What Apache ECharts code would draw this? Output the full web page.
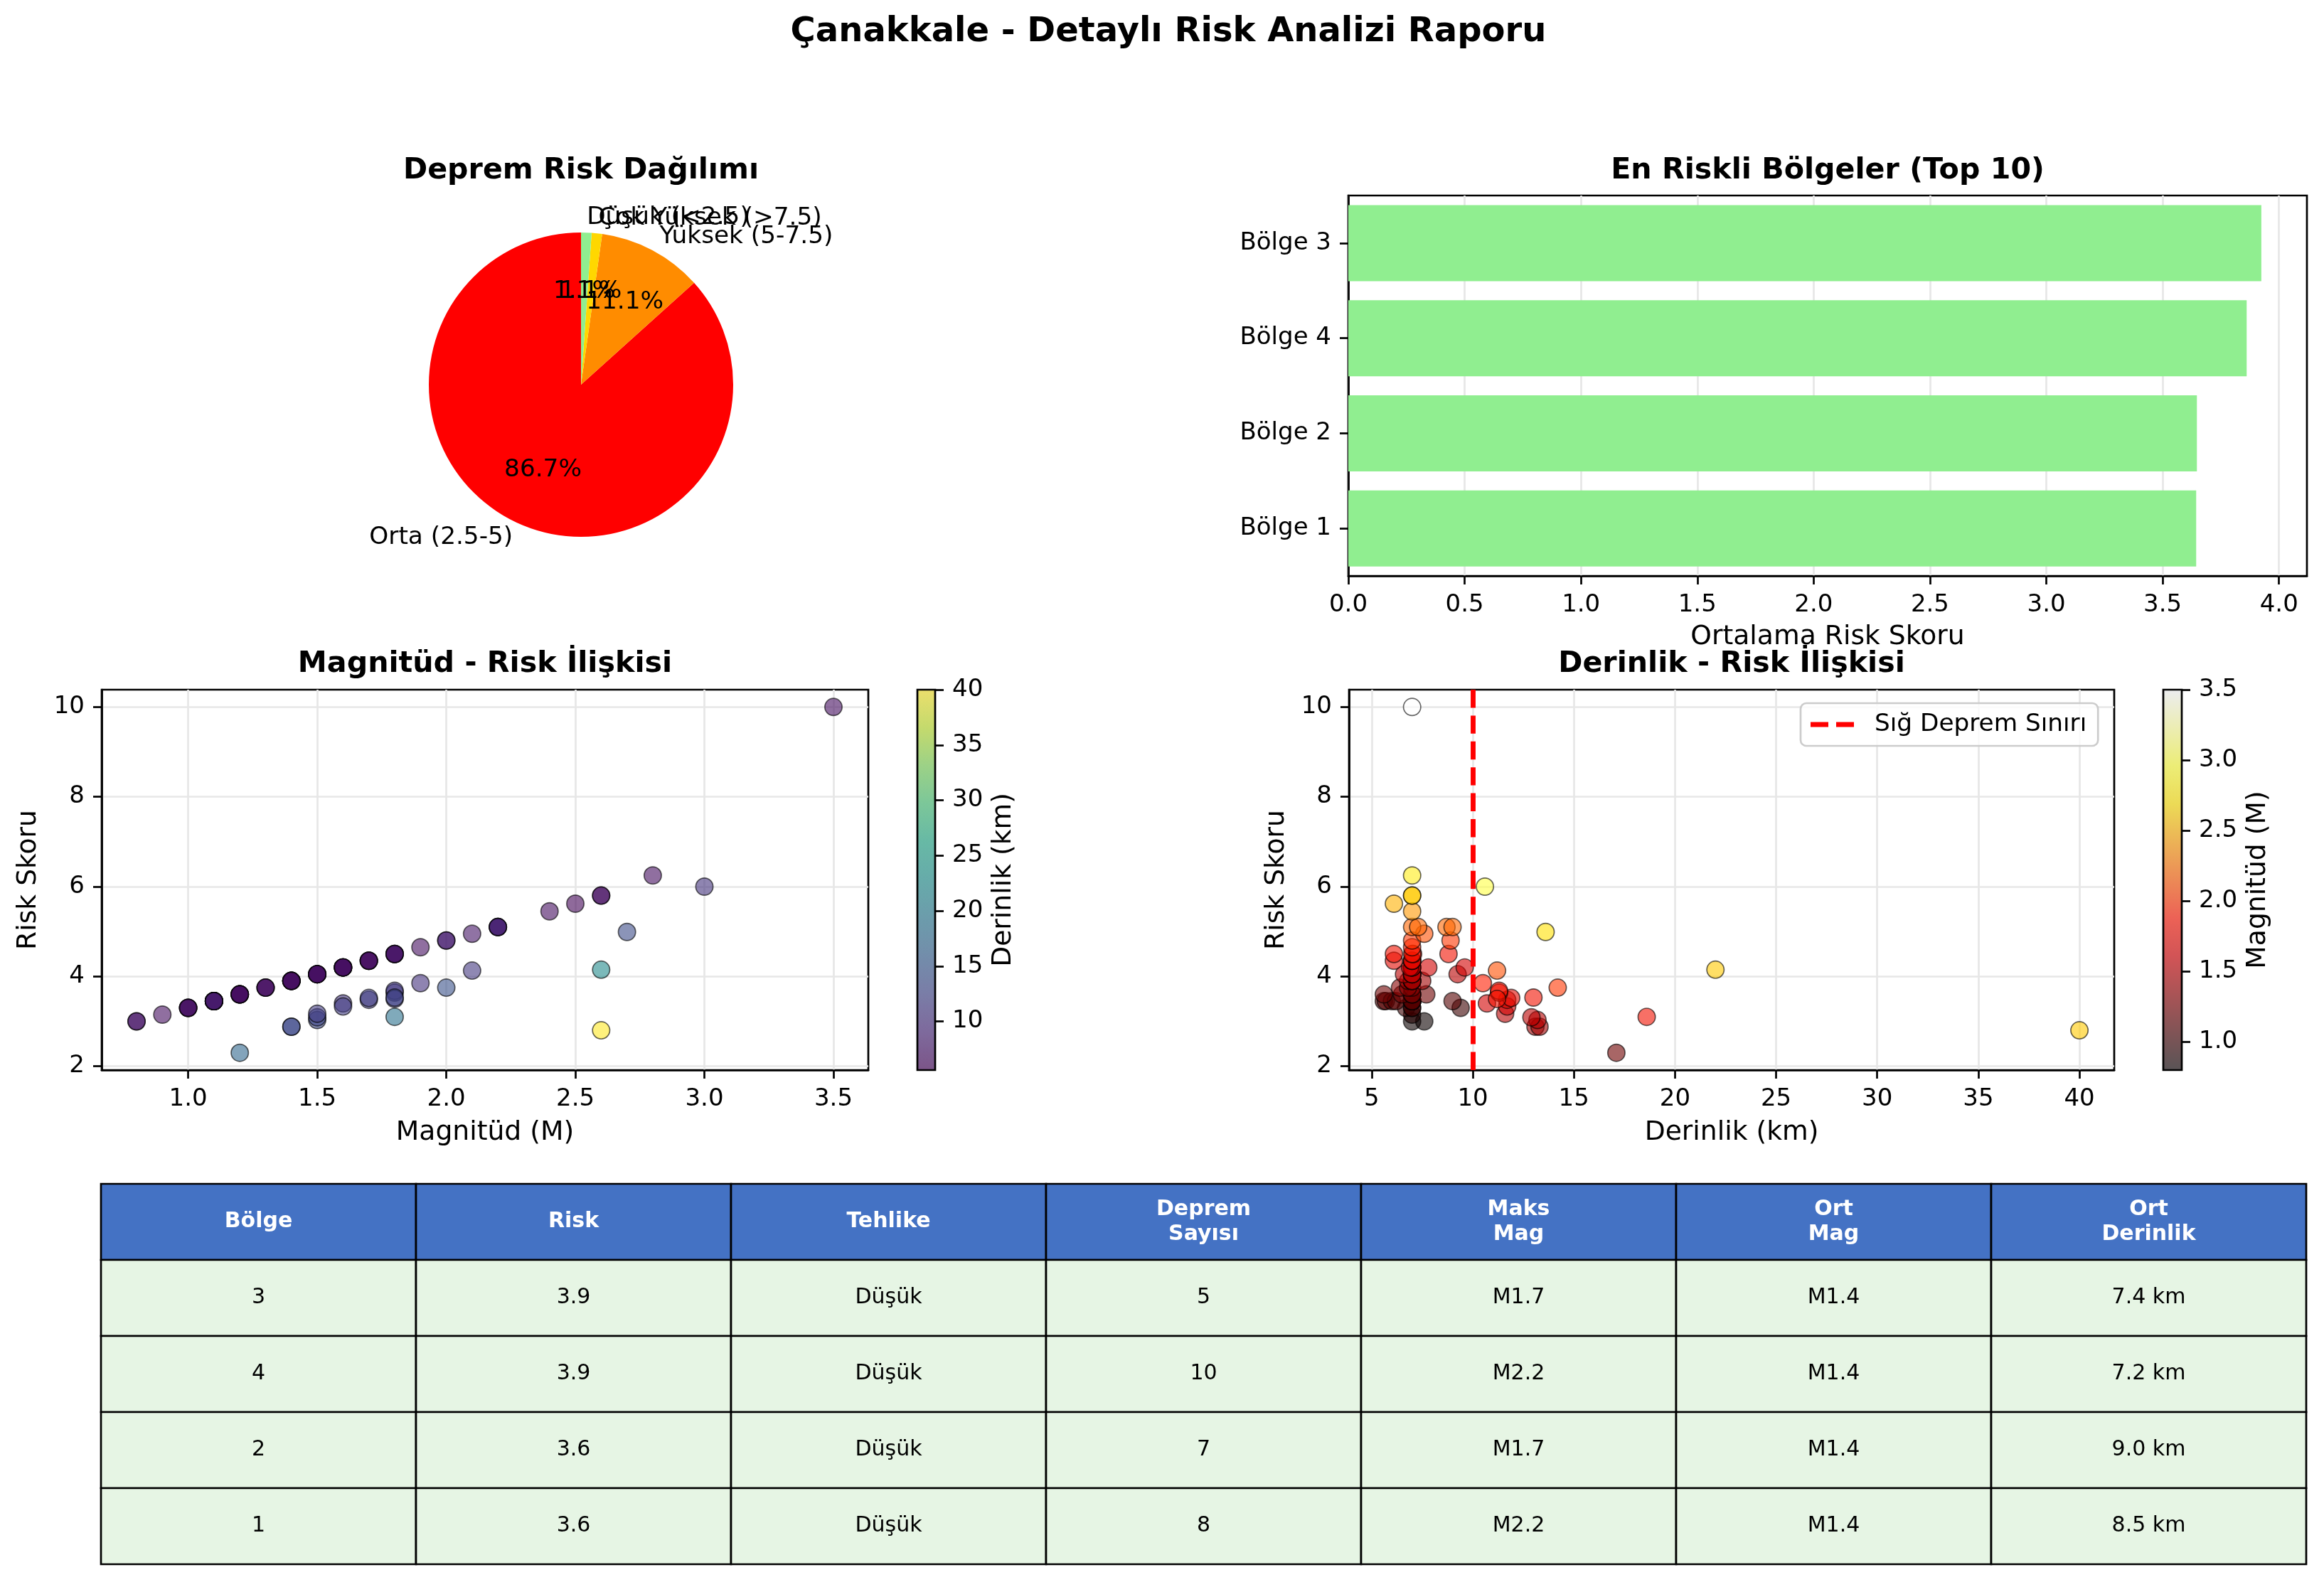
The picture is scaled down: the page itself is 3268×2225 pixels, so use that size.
<!DOCTYPE html>
<html>
<head>
<meta charset="utf-8">
<title>Çanakkale - Detaylı Risk Analizi Raporu</title>
<script src="https://cdn.jsdelivr.net/npm/echarts@6/dist/echarts.min.js"></script>
<style>
html, body { margin: 0; padding: 0; background: #fff; }
#main { width: 3268px; height: 2225px; }
</style>
</head>
<body>
<div id="main"></div>
<script>
/* ---------- data ---------- */
// one entry per earthquake: magnitude, depth (km), risk score
var magnitudes = [
  0.8, 0.8, 0.9, 1.0, 1.0, 1.0, 1.0,
  1.1, 1.1, 1.1, 1.1, 1.1, 1.1, 1.1, 1.1, 1.1, 1.1, 1.1,
  1.2, 1.2, 1.2, 1.2, 1.2, 1.2,
  1.3, 1.3, 1.3,
  1.4, 1.4, 1.4, 1.4, 1.4, 1.4, 1.4,
  1.5, 1.5, 1.5, 1.5, 1.5, 1.5,
  1.6, 1.6, 1.6, 1.6, 1.6, 1.6,
  1.7, 1.7, 1.7, 1.7,
  1.8, 1.8, 1.8, 1.8,
  1.9, 2.0, 2.0, 2.1, 2.2, 2.2, 2.2, 2.2, 2.4, 2.5, 2.6, 2.6, 2.8, 3.5,
  1.2, 1.4, 1.4, 1.5, 1.5, 1.5, 1.6, 1.6, 1.7, 1.7, 1.8, 1.8, 1.8, 1.8, 1.8,
  1.9, 2.0, 2.1, 2.6, 2.6, 2.7, 3.0
];
var depths = [
  7.0, 7.6, 7.0, 6.7, 9.4, 7.0, 7.0,
  5.6, 5.7, 6.0, 6.2, 7.0, 7.0, 7.0, 7.0, 7.0, 7.0, 9.0,
  5.6, 6.5, 7.7, 7.0, 7.0, 7.0,
  6.4, 7.0, 6.8,
  6.8, 7.0, 7.5, 7.0, 7.0, 7.0, 7.0,
  6.6, 7.0, 9.25, 7.0, 7.0, 7.0,
  7.0, 7.8, 9.6, 7.0, 7.0, 6.9,
  6.1, 7.0, 7.0, 7.0,
  6.1, 7.05, 8.8, 7.0,
  7.0, 7.0, 8.9, 7.6, 7.0, 7.3, 8.7, 9.0, 7.0, 6.1, 7.0, 7.0, 7.0, 7.0,
  17.1, 13.1, 13.3, 13.2, 12.9, 11.6, 10.7, 11.7, 11.7, 11.9, 11.3, 11.3, 11.2, 13.0, 18.6,
  10.5, 14.2, 11.2, 22.0, 40.0, 13.6, 10.6
];
var riskScores = [
  3.0, 3.0, 3.15, 3.3, 3.3, 3.3, 3.3,
  3.45, 3.45, 3.45, 3.45, 3.45, 3.45, 3.45, 3.45, 3.45, 3.45, 3.45,
  3.6, 3.6, 3.6, 3.6, 3.6, 3.6,
  3.75, 3.75, 3.75,
  3.9, 3.9, 3.9, 3.9, 3.9, 3.9, 3.9,
  4.05, 4.05, 4.05, 4.05, 4.05, 4.05,
  4.2, 4.2, 4.2, 4.2, 4.2, 4.2,
  4.35, 4.35, 4.35, 4.35,
  4.5, 4.5, 4.5, 4.5,
  4.65, 4.8, 4.8, 4.95, 5.1, 5.1, 5.1, 5.1, 5.45, 5.62, 5.8, 5.8, 6.25, 10.0,
  2.3, 2.88, 2.88, 3.03, 3.09, 3.17, 3.4, 3.33, 3.48, 3.52, 3.64, 3.68, 3.5, 3.53, 3.1,
  3.85, 3.75, 4.13, 4.15, 2.8, 4.99, 6.0
];

// pie classes (drawn counter-clockwise from 12 o'clock)
var riskClasses = ['Orta (2.5-5)', 'Yüksek (5-7.5)', 'Çok Yüksek (>7.5)', 'Düşük (<2.5)'];
var riskClassColors = ['#FF0000', '#FF8C00', '#FFD700', '#90EE90'];

// top regions
var regionNames = ['Bölge 3', 'Bölge 4', 'Bölge 2', 'Bölge 1'];
var regionRisk = [3.924, 3.861, 3.647, 3.644];

var shallowLimit = 10;

// tick labels
var magTicks = [1.0, 1.5, 2.0, 2.5, 3.0, 3.5];
var riskTicks = [2, 4, 6, 8, 10];
var depthTicks = [5, 10, 15, 20, 25, 30, 35, 40];
var depthBarTicks = [10, 15, 20, 25, 30, 35, 40];
var regionRiskTicks = [0, 0.5, 1.0, 1.5, 2.0, 2.5, 3.0, 3.5, 4.0];

// table
var tableHeaders = ['Bölge', 'Risk', 'Tehlike', 'Deprem\nSayısı', 'Maks\nMag', 'Ort\nMag', 'Ort\nDerinlik'];
var tableRows = [
  ['3', '3.9', 'Düşük', '5', 'M1.7', 'M1.4', '7.4 km'],
  ['4', '3.9', 'Düşük', '10', 'M2.2', 'M1.4', '7.2 km'],
  ['2', '3.6', 'Düşük', '7', 'M1.7', 'M1.4', '9.0 km'],
  ['1', '3.6', 'Düşük', '8', 'M2.2', 'M1.4', '8.5 km']
];

/* ---------- helpers ---------- */
var FONT = 'DejaVu Sans';
var LW = 2.7;
var viridis = ['#440154', '#482475', '#414487', '#355f8d', '#2a788e', '#21918c',
               '#22a884', '#44bf70', '#7ad151', '#bddf26', '#fde725'];
var hot = ['#0b0000', '#4d0000', '#910000', '#d40000', '#ff1700', '#ff5a00',
           '#ff9d00', '#ffe000', '#ffff36', '#ffff9b', '#ffffff'];
function fade(list, a) {
  return list.map(function (h) {
    var r = parseInt(h.substr(1, 2), 16), g = parseInt(h.substr(3, 2), 16), b = parseInt(h.substr(5, 2), 16);
    return 'rgba(' + r + ',' + g + ',' + b + ',' + a + ')';
  });
}

// pie counts from the risk scores
var classCounts = [0, 0, 0, 0];
riskScores.forEach(function (r) {
  if (r < 2.5) classCounts[3]++;
  else if (r < 5) classCounts[0]++;
  else if (r <= 7.5) classCounts[1]++;
  else classCounts[2]++;
});

var magRiskData = magnitudes.map(function (m, i) { return [m, riskScores[i], depths[i]]; });
var depthRiskData = depths.map(function (d, i) { return [d, riskScores[i], magnitudes[i]]; });

function valueAxis(o) {
  var ax = {
    gridIndex: o.grid, type: 'value', min: o.min, max: o.max,
    position: o.position,
    axisLine: { show: o.line !== false, onZero: false, lineStyle: { color: '#000', width: LW } },
    axisTick: { show: true, length: 12, lineStyle: { color: '#000', width: LW }, customValues: o.ticks },
    axisLabel: {
      show: true, customValues: o.ticks, margin: 24, color: '#000', fontSize: 34, fontFamily: FONT,
      formatter: o.fmt || function (v) { return String(v); }
    },
    splitLine: { show: !!o.split, lineStyle: { color: '#e7e7e7', width: LW } }
  };
  if (o.name) {
    ax.name = o.name;
    ax.nameLocation = 'middle';
    ax.nameGap = o.gap;
    ax.nameTextStyle = { color: '#000', fontSize: 37.7, fontFamily: FONT };
    if (o.rotate !== undefined) ax.nameRotate = o.rotate;
  }
  return ax;
}
function fixed1(v) { return v.toFixed(1); }

/* ---------- table and titles as graphics ---------- */
var graphics = [];
function addText(x, y, text, size, bold, color) {
  graphics.push({
    type: 'text', x: x, y: y, silent: true,
    style: {
      text: text, fill: color || '#000', textAlign: 'center', textVerticalAlign: 'middle', verticalAlign: 'middle',
      font: (bold ? 'bold ' : '') + size + 'px "' + FONT + '"', lineHeight: size * 1.17
    }
  });
}
addText(1643, 46, 'Çanakkale - Detaylı Risk Analizi Raporu', 48, true);
addText(817, 240, 'Deprem Risk Dağılımı', 41.2, true);
addText(2570, 240, 'En Riskli Bölgeler (Top 10)', 41.2, true);
addText(682, 934, 'Magnitüd - Risk İlişkisi', 41.2, true);
addText(2435, 934, 'Derinlik - Risk İlişkisi', 41.2, true);

var tblLeft = 142, tblTop = 1665, colW = 443, rowH = 107;
tableHeaders.forEach(function (h, c) {
  graphics.push({
    type: 'rect', silent: true,
    shape: { x: tblLeft + c * colW, y: tblTop, width: colW, height: rowH },
    style: { fill: '#4472C4', stroke: '#000', lineWidth: LW }
  });
  addText(tblLeft + c * colW + colW / 2, tblTop + rowH / 2, h, 30, true, '#fff');
});
tableRows.forEach(function (row, r) {
  row.forEach(function (cell, c) {
    var y0 = tblTop + (r + 1) * rowH;
    graphics.push({
      type: 'rect', silent: true,
      shape: { x: tblLeft + c * colW, y: y0, width: colW, height: rowH },
      style: { fill: '#e6f5e4', stroke: '#000', lineWidth: LW }
    });
    addText(tblLeft + c * colW + colW / 2, y0 + rowH / 2, cell, 30, false, '#000');
  });
});

/* ---------- chart ---------- */
var chart = echarts.init(document.getElementById('main'));
var gridBase = { show: true, borderColor: '#000', borderWidth: LW, backgroundColor: 'rgba(0,0,0,0)', containLabel: false, outerBoundsMode: 'none' };
function grid(l, t, w, h, z) {
  return Object.assign({ left: l, top: t, width: w, height: h, z: z || 0 }, gridBase);
}

var option = {
  animation: false,
  backgroundColor: '#fff',
  textStyle: { fontFamily: FONT },
  grid: [
    grid(1896, 275, 1348, 535),
    grid(143, 970, 1078, 535),
    grid(1290, 970, 25, 535, 10),
    grid(1897, 970, 1076, 535),
    grid(3042, 970, 26, 535, 10)
  ],
  xAxis: [
    valueAxis({ grid: 0, min: 0, max: 4.12, ticks: regionRiskTicks, fmt: fixed1, split: true,
      name: 'Ortalama Risk Skoru', gap: 67 }),
    valueAxis({ grid: 1, min: 0.665, max: 3.635, ticks: magTicks, fmt: fixed1, split: true,
      name: 'Magnitüd (M)', gap: 69 }),
    { gridIndex: 2, type: 'value', min: 0, max: 1, show: false },
    valueAxis({ grid: 3, min: 3.88, max: 41.72, ticks: depthTicks, split: true,
      name: 'Derinlik (km)', gap: 69 }),
    { gridIndex: 4, type: 'value', min: 0, max: 1, show: false }
  ],
  yAxis: [
    {
      gridIndex: 0, type: 'category', data: regionNames, inverse: true,
      axisLine: { show: true, lineStyle: { color: '#000', width: LW } },
      axisTick: { show: true, alignWithLabel: true, length: 12, lineStyle: { color: '#000', width: LW } },
      axisLabel: { margin: 24, color: '#000', fontSize: 34, fontFamily: FONT },
      splitLine: { show: false }
    },
    valueAxis({ grid: 1, min: 1.915, max: 10.385, ticks: riskTicks, split: true,
      name: 'Risk Skoru', gap: 84, rotate: 90 }),
    valueAxis({ grid: 2, min: 5.6, max: 40, ticks: depthBarTicks, position: 'right', line: false,
      name: 'Derinlik (km)', gap: 77, rotate: 90 }),
    valueAxis({ grid: 3, min: 1.915, max: 10.385, ticks: riskTicks, split: true,
      name: 'Risk Skoru', gap: 83, rotate: 90 }),
    valueAxis({ grid: 4, min: 0.8, max: 3.5, ticks: magTicks, fmt: fixed1, position: 'right', line: false,
      name: 'Magnitüd (M)', gap: 88, rotate: 90 })
  ],
  visualMap: [
    {
      type: 'continuous', seriesIndex: 1, dimension: 2, min: 5.6, max: 40,
      inRange: { color: fade(viridis, 0.6) },
      left: 1290, top: 970, itemWidth: 25, itemHeight: 535, padding: 0,
      calculable: false, realtime: false, hoverLink: false
    },
    {
      type: 'continuous', seriesIndex: 2, dimension: 2, min: 0.8, max: 3.5,
      inRange: { color: fade(hot, 0.6) },
      left: 3042, top: 970, itemWidth: 26, itemHeight: 535, padding: 0,
      calculable: false, realtime: false, hoverLink: false
    }
  ],
  legend: {
    data: [{ name: 'Sığ Deprem Sınırı', icon: 'path://M0,0H25V7H0ZM36,0H61V7H36Z' }],
    left: 2532, top: 989, orient: 'vertical', selectedMode: false,
    itemWidth: 61, itemHeight: 7, padding: [13, 16, 13, 14],
    backgroundColor: 'rgba(255,255,255,0.8)', borderColor: '#cccccc', borderWidth: LW, borderRadius: 8,
    itemStyle: { color: '#ff0000', borderWidth: 0 },
    textStyle: { color: '#000', fontSize: 34.3, fontFamily: FONT, padding: [0, 0, 0, 24] }
  },
  series: [
    {
      type: 'bar', xAxisIndex: 0, yAxisIndex: 0, data: regionRisk,
      barCategoryGap: '20%', itemStyle: { color: '#90EE90' }, silent: true
    },
    {
      type: 'scatter', xAxisIndex: 1, yAxisIndex: 1, data: magRiskData, symbolSize: 24.3,
      itemStyle: { opacity: 1, borderColor: 'rgba(0,0,0,0.6)', borderWidth: 1.7 }, silent: true
    },
    {
      type: 'scatter', xAxisIndex: 3, yAxisIndex: 3, data: depthRiskData, symbolSize: 24.3,
      itemStyle: { opacity: 1, borderColor: 'rgba(0,0,0,0.6)', borderWidth: 1.7 }, silent: true
    },
    {
      type: 'line', name: 'Sığ Deprem Sınırı', xAxisIndex: 3, yAxisIndex: 3, data: [], color: '#ff0000',
      markLine: {
        silent: true, symbol: ['none', 'none'], label: { show: false },
        lineStyle: { color: '#ff0000', width: 6.9, type: [25.4, 11] },
        data: [{ xAxis: shallowLimit }]
      }
    },
    {
      type: 'pie', center: [817, 541], radius: 214, startAngle: 90, clockwise: false,
      avoidLabelOverlap: false, silent: true, percentPrecision: 2, minShowLabelAngle: 0,
      data: riskClasses.map(function (n, i) { return { name: n, value: classCounts[i], itemStyle: { color: riskClassColors[i] } }; }),
      label: { show: true, position: 'outside', formatter: '{b}', color: '#000', fontSize: 34.3, fontFamily: FONT, distanceToLabelLine: 0 },
      labelLine: { show: false, length: 21.4, length2: 0 },
      labelLayout: { hideOverlap: false },
      itemStyle: { borderWidth: 0 }
    },
    {
      type: 'pie', center: [817, 541], radius: 256.8, startAngle: 90, clockwise: false,
      avoidLabelOverlap: false, silent: true, percentPrecision: 2, minShowLabelAngle: 0,
      data: riskClasses.map(function (n, i) { return { name: n, value: classCounts[i] }; }),
      itemStyle: { color: 'rgba(0,0,0,0)', borderWidth: 0 },
      label: {
        show: true, position: 'inside', color: '#000', fontSize: 34.3, fontFamily: FONT, overflow: 'none',
        formatter: function (p) { return p.percent.toFixed(1) + '%'; }
      },
      labelLayout: { hideOverlap: false },
      labelLine: { show: false }
    }
  ],
  graphic: graphics
};
chart.setOption(option);
</script>
</body>
</html>
